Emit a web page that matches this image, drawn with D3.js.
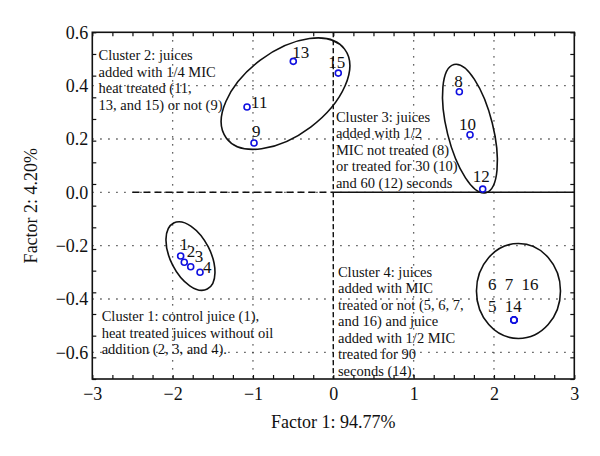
<!DOCTYPE html>
<html><head><meta charset="utf-8">
<script src="https://cdn.jsdelivr.net/npm/d3@7"></script>
<style>
body{margin:0;background:#fff}
text{font-family:"Liberation Serif","Times New Roman",serif;fill:#111}
</style>
</head><body>
<svg id="chart" width="600" height="456"></svg>
<script>
// ---------- data ----------
const pointIds = ["1","2","3","4","9","11","13","15","8","10","12","5","6","7","16","14"];
const factor1  = [-1.900,-1.855,-1.775,-1.659,-0.987,-1.074,-0.498,0.062,1.569,1.702,1.860,2.249,2.249,2.249,2.249,2.249];
const factor2  = [-0.239,-0.2625,-0.279,-0.300,0.185,0.320,0.491,0.447,0.377,0.216,0.012,-0.479,-0.479,-0.479,-0.479,-0.479];

const xTickValues = [-3,-2,-1,0,1,2,3];
const yTickValues = [-0.6,-0.4,-0.2,0.0,0.2,0.4,0.6];
const xTitle = "Factor 1: 94.77%";
const yTitle = "Factor 2: 4.20%";

// cluster ellipses (data units; angle in degrees on screen)
const ellipseCx    = [-1.778,-0.595, 1.701, 2.305];
const ellipseCy    = [-0.239, 0.370, 0.239,-0.370];
const ellipseRx    = [ 0.461, 0.921, 0.822, 0.523];
const ellipseRy    = [ 0.075, 0.157, 0.0862,0.178];
const ellipseAngle = [ 63, -37, 76, 0];

// annotations
const annotationLines = [
  ["Cluster 1: control juice (1),","heat treated juices without oil","addition (2, 3, and 4)."],
  ["Cluster 2: juices","added with 1/4 MIC","heat treated (11,","13, and 15) or not (9)"],
  ["Cluster 3: juices","added with 1/2","MIC not treated (8)","or treated for 30 (10)","and 60 (12) seconds"],
  ["Cluster 4: juices","added with MIC","treated or not (5, 6, 7,","and 16) and juice","added with 1/2 MIC","treated for 90","seconds (14)."]
];
const annotationX = [-2.883,-2.923, 0.033, 0.058];
const annotationY = [-0.484, 0.496, 0.264,-0.316];

// group label for overlapping points of cluster 4
const groupLabelLines = ["6 7 16","5 14"];
const groupLabelAnchor = "14";

// ---------- layout ----------
const W = 600, H = 456;
const m = {left:92.3, top:32.3, right:600-574.3, bottom:456-379};
const labelOffset = {"1":[-1,-6],"2":[2.5,-5],"3":[4,-5],"4":[3,1],"9":[-2,-6],"11":[4,1],
  "13":[-1,-3],"15":[-10,-5],"8":[-5,-5],"10":[-11,-5],"12":[-10,-7]};
const groupOffset = [[-26,-30],[-26,-8]];

const svg = d3.select("#chart");
svg.append("rect").attr("width",W).attr("height",H).attr("fill","#fff");

const x = d3.scaleLinear().domain([-3,3]).range([m.left, W-m.right]);
const y = d3.scaleLinear().domain([-0.7,0.6]).range([H-m.bottom, m.top]);
const fmtY = d3.format(".1f");

// grid (dotted)
const g = svg.append("g");
g.selectAll(".vg").data(xTickValues.filter(v=>v>-3&&v<3)).join("line")
  .attr("x1",d=>x(d)).attr("x2",d=>x(d)).attr("y1",y.range()[1]).attr("y2",y.range()[0])
  .attr("stroke","#333").attr("stroke-width",1.3).attr("stroke-dasharray","1.3,6.7");
g.selectAll(".hg").data(yTickValues.filter(v=>v<0.6)).join("line")
  .attr("y1",d=>y(d)).attr("y2",d=>y(d)).attr("x1",x.range()[0]).attr("x2",x.range()[1])
  .attr("stroke","#333").attr("stroke-width",1.3).attr("stroke-dasharray","1.3,6.7");

// reference lines
svg.append("line").attr("x1",x(0)).attr("x2",x(0)).attr("y1",y(0.6)).attr("y2",y(-0.7))
  .attr("stroke","#111").attr("stroke-width",1.4).attr("stroke-dasharray","5,3");
svg.append("line").attr("x1",x(-2.5)).attr("x2",x(0)).attr("y1",y(0)).attr("y2",y(0))
  .attr("stroke","#111").attr("stroke-width",1.4).attr("stroke-dasharray","7,4");
svg.append("line").attr("x1",x(0)).attr("x2",x(3)).attr("y1",y(0)).attr("y2",y(0))
  .attr("stroke","#111").attr("stroke-width",1.4);

// axes with inward minor ticks
const xMinor = d3.range(-3,3.0001,0.25);
const yMinor = d3.range(0,17).map(k=>-0.7+k*1.3/16);
const tickLen = 4;
svg.append("g").attr("transform",`translate(0,${y(-0.7)})`)
  .call(d3.axisBottom(x).tickValues(xMinor).tickSize(-tickLen).tickFormat(""))
  .call(a=>a.select(".domain").remove());
svg.append("g").attr("transform",`translate(0,${y(0.6)})`)
  .call(d3.axisTop(x).tickValues(xMinor).tickSize(-tickLen).tickFormat(""))
  .call(a=>a.select(".domain").remove());
svg.append("g").attr("transform",`translate(${x(-3)},0)`)
  .call(d3.axisLeft(y).tickValues(yMinor).tickSize(-tickLen).tickFormat(""))
  .call(a=>a.select(".domain").remove());
svg.append("g").attr("transform",`translate(${x(3)},0)`)
  .call(d3.axisRight(y).tickValues(yMinor).tickSize(-tickLen).tickFormat(""))
  .call(a=>a.select(".domain").remove());
svg.selectAll(".tick line").attr("stroke","#111").attr("stroke-width",1.2);

// major tick labels
svg.append("g").attr("transform",`translate(0,${y(-0.7)})`)
  .call(d3.axisBottom(x).tickValues(xTickValues).tickSize(0).tickPadding(0).tickFormat(d3.format("d")))
  .call(a=>a.select(".domain").remove())
  .call(a=>a.selectAll("text").attr("y",21).attr("dy",0).attr("font-size",18)
    .attr("font-family",'"Liberation Serif",serif').attr("fill","#111"));
svg.append("g").attr("transform",`translate(${x(-3)},0)`)
  .call(d3.axisLeft(y).tickValues(yTickValues).tickSize(0).tickPadding(0).tickFormat(fmtY))
  .call(a=>a.select(".domain").remove())
  .call(a=>a.selectAll("text").attr("x",-4).attr("dy","0.33em").attr("font-size",18)
    .attr("font-family",'"Liberation Serif",serif').attr("fill","#111"));

// frame
svg.append("rect").attr("x",x(-3)).attr("y",y(0.6)).attr("width",x(3)-x(-3)).attr("height",y(-0.7)-y(0.6))
  .attr("fill","none").attr("stroke","#111").attr("stroke-width",1.6);

// titles
svg.append("text").attr("x",(x(-3)+x(3))/2).attr("y",428).attr("text-anchor","middle")
  .attr("font-size",18).text(xTitle);
svg.append("text").attr("transform",`translate(37,${(y(0.6)+y(-0.7))/2}) rotate(-90)`)
  .attr("text-anchor","middle").attr("font-size",18).text(yTitle);

// ellipses
const ell = d3.range(ellipseCx.length).map(i=>({cx:ellipseCx[i],cy:ellipseCy[i],rx:ellipseRx[i],ry:ellipseRy[i],a:ellipseAngle[i]}));
svg.selectAll(".ell").data(ell).join("ellipse")
  .attr("cx",0).attr("cy",0)
  .attr("rx",d=>Math.abs(x(d.cx+d.rx)-x(d.cx)))
  .attr("ry",d=>Math.abs(y(d.cy+d.ry)-y(d.cy)))
  .attr("transform",d=>`translate(${x(d.cx)},${y(d.cy)}) rotate(${d.a})`)
  .attr("fill","none").attr("stroke","#111").attr("stroke-width",1.6);

// annotations
annotationLines.forEach((lines,i)=>{
  const t = svg.append("text").attr("font-size",14.5);
  lines.forEach((s,j)=>t.append("tspan").attr("x",x(annotationX[i])).attr("y",y(annotationY[i])+j*16.5).text(s));
});

// points
const pts = pointIds.map((id,i)=>({id, fx:factor1[i], fy:factor2[i]}));
svg.selectAll(".pt").data(pts).join("circle")
  .attr("cx",d=>x(d.fx)).attr("cy",d=>y(d.fy)).attr("r",3)
  .attr("fill","#fff").attr("stroke","#1010e0").attr("stroke-width",1.6);

// point labels
svg.selectAll(".lbl").data(pts.filter(d=>labelOffset[d.id])).join("text")
  .attr("x",d=>x(d.fx)+labelOffset[d.id][0]).attr("y",d=>y(d.fy)+labelOffset[d.id][1])
  .attr("font-size",17).text(d=>d.id);
const anc = pts.find(d=>d.id===groupLabelAnchor);
groupLabelLines.forEach((s,j)=>{
  svg.append("text").attr("x",x(anc.fx)+groupOffset[j][0]).attr("y",y(anc.fy)+groupOffset[j][1])
    .attr("font-size",17).attr("word-spacing",4).text(s);
});
</script>
</body></html>
